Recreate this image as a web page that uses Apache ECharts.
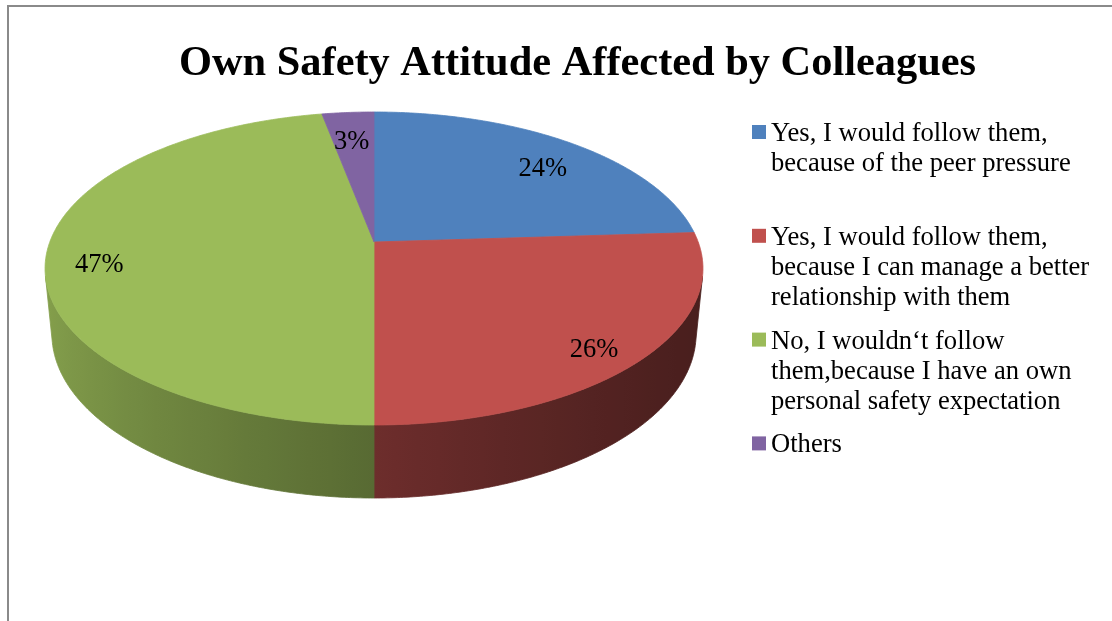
<!DOCTYPE html>
<html><head><meta charset="utf-8">
<script src="https://cdn.jsdelivr.net/npm/echarts@6/dist/echarts.min.js"></script>
<style>html,body{margin:0;padding:0;background:#fff}#c{width:1112px;height:621px}</style>
</head><body><div id="c"></div>
<script>
// ---- data ----
const titleText = 'Own Safety Attitude Affected by Colleagues';
const categories = [
  'Yes, I would follow them, because of the peer pressure',
  'Yes, I would follow them, because I can manage a better relationship with them',
  'No, I wouldn‘t follow them,because I have an own personal safety expectation',
  'Others'
];
const legendLabels = [
  'Yes, I would follow them,\nbecause of the peer pressure',
  'Yes, I would follow them,\nbecause I can manage a better\nrelationship with them',
  'No, I wouldn‘t follow\nthem,because I have an own\npersonal safety expectation',
  'Others'
];
const values = [24, 26, 47, 3];
const colors = ['#4F81BD', '#C0504D', '#9BBB59', '#8064A2'];

// ---- 3D pie geometry (perspective projection) ----
const G = { cx: 374, cy: 242, S: 324.2, k: 0.1693, sa: 0.4689, ca: 0.8833, h: 0.2303 };
const D = G.ca / G.k;
const F = G.S * D;
function proj(theta, r, w) {
  const t = theta * Math.PI / 180;
  const u = r * Math.sin(t), v = r * Math.cos(t);
  const X = u, Y = v * G.sa + w * G.ca, Z = D + v * G.ca - w * G.sa;
  return [G.cx + F * X / Z, G.cy - F * Y / Z];
}
const visLimit = Math.acos(-1 / (D * G.ca)) * 180 / Math.PI; // wall silhouette
function hexToRgb(hex) {
  const n = parseInt(hex.slice(1), 16);
  return [(n >> 16) & 255, (n >> 8) & 255, n & 255];
}
function shade(hex, theta) {
  const f = 0.635 + 0.2535 * Math.cos((theta - 285) * Math.PI / 180);
  const c = hexToRgb(hex).map(x => Math.max(0, Math.min(255, Math.round(x * f))));
  return 'rgb(' + c.join(',') + ')';
}
function arc(a0, a1, r, w) {
  const pts = [];
  const n = Math.max(2, Math.ceil(Math.abs(a1 - a0) / 0.5));
  for (let j = 0; j <= n; j++) pts.push(proj(a0 + (a1 - a0) * j / n, r, w));
  return pts;
}

function makeRender(i) {
  return function (params, api) {
    const total = values.reduce((a, b) => a + b, 0);
    let start = 0;
    for (let k = 0; k < i; k++) start += values[k];
    const val = api.value(0);
    const a0 = start / total * 360, a1 = (start + val) / total * 360;
    const color = colors[i];
    const children = [];
    // outer wall (front visible part)
    const b0 = Math.max(a0, visLimit), b1 = Math.min(a1, 360 - visLimit);
    if (b1 > b0) {
      const top = arc(b0, b1, 1, 0);
      const bot = arc(b1, b0, 1, -G.h);
      const xs = top.map(p => p[0]);
      const xmin = Math.min.apply(null, xs), xmax = Math.max.apply(null, xs);
      const stops = [];
      const ns = 24;
      for (let j = 0; j <= ns; j++) {
        const th = b0 + (b1 - b0) * j / ns;
        const p = proj(th, 1, 0);
        stops.push({ offset: xmax > xmin ? (p[0] - xmin) / (xmax - xmin) : 0, color: shade(color, th) });
      }
      stops.sort((a, b) => a.offset - b.offset);
      const grad = { type: 'linear', x: xmin, y: 0, x2: xmax, y2: 0, global: true, colorStops: stops };
      children.push({
        type: 'polygon', z2: 1,
        shape: { points: top.concat(bot) },
        style: { fill: grad, stroke: grad, lineWidth: 0.8 }
      });
    }
    // top face
    const c = proj(0, 0, 0);
    children.push({
      type: 'polygon', z2: 50,
      shape: { points: [c].concat(arc(a0, a1, 1, 0)) },
      style: { fill: color, stroke: color, lineWidth: 0.8 }
    });
    // label
    const mid = (a0 + a1) / 2;
    const lp = proj(mid, 0.84, 0);
    children.push({
      type: 'text', z2: 100,
      style: {
        x: lp[0], y: lp[1] + 11, text: Math.round(val) + '%',
        align: 'center', verticalAlign: 'middle',
        font: '26.5px "Liberation Serif"', fill: '#000'
      }
    });
    return { type: 'group', children: children };
  };
}

const L = 30;      // legend line height
const SQ = 14;     // legend square size
const option = {
  animation: false,
  backgroundColor: '#ffffff',
  color: colors,
  title: {
    text: titleText, left: 179, top: 43, padding: 0,
    textStyle: { fontFamily: 'Liberation Serif', fontSize: 42.4, fontWeight: 'bold', color: '#000' }
  },
  legend: categories.map((name, i) => {
    const n = legendLabels[i].split('\n').length;
    const H = n * L;
    const y0 = L / 2 - SQ / 2 - 2;
    const firstLineY = 134 + i * 103.8;
    return {
      data: [name], left: 752, top: firstLineY - L / 2, padding: 0,
      orient: 'vertical',
      icon: 'path://M0,0M' + SQ + ',' + H + 'M0,' + y0 + 'h' + SQ + 'v' + SQ + 'h-' + SQ + 'z',
      itemWidth: SQ, itemHeight: H,
      selectedMode: false,
      formatter: nm => legendLabels[categories.indexOf(nm)],
      textStyle: { fontFamily: 'Liberation Serif', fontSize: 26.6, color: '#000', lineHeight: L }
    };
  }),
  graphic: [{
    type: 'rect', silent: true, z: -10,
    shape: { x: 8, y: 6, width: 1300, height: 800 },
    style: { fill: 'none', stroke: '#8a8a8a', lineWidth: 2 }
  }],
  series: categories.map((name, i) => ({
    type: 'custom', name: name, coordinateSystem: 'none', silent: true,
    itemStyle: { color: colors[i] },
    data: [[values[i]]],
    renderItem: makeRender(i)
  }))
};
const chart = echarts.init(document.getElementById('c'), null, { renderer: 'canvas' });
chart.setOption(option);
</script>
</body></html>
